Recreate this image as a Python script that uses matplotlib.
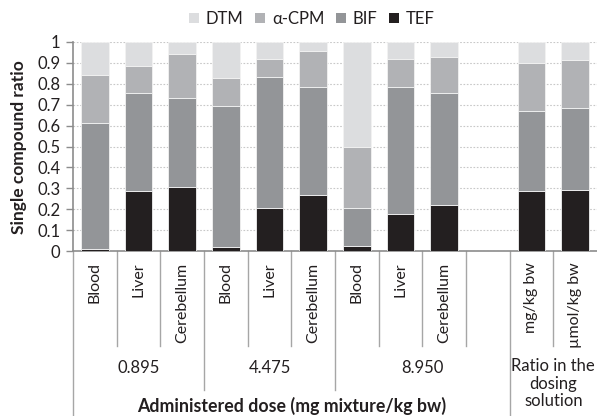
import matplotlib
matplotlib.use("Agg")
import matplotlib.pyplot as plt
import numpy as np
from matplotlib.patches import Patch
from matplotlib.lines import Line2D
import matplotlib.transforms as mtrans

plt.rcParams['font.family'] = ['Lato', 'DejaVu Sans']

categories = ["Blood", "Liver", "Cerebellum", "Blood", "Liver", "Cerebellum",
              "Blood", "Liver", "Cerebellum", "", "mg/kg bw", "µmol/kg bw"]
groups = ["0.895", "4.475", "8.950", "Ratio in the\ndosing\nsolution"]
group_spans = [(0, 3), (3, 6), (6, 10), (10, 12)]
supergroup = "Administered dose (mg mixture/kg bw)"

TEF = [0.010, 0.289, 0.308, 0.019, 0.204, 0.268, 0.022, 0.179, 0.219, 0.0, 0.286, 0.292]
BIF = [0.603, 0.468, 0.422, 0.676, 0.627, 0.518, 0.186, 0.604, 0.537, 0.0, 0.383, 0.390]
CPM = [0.227, 0.130, 0.212, 0.132, 0.089, 0.169, 0.292, 0.137, 0.171, 0.0, 0.229, 0.233]
DTM = [0.160, 0.113, 0.058, 0.173, 0.080, 0.045, 0.500, 0.080, 0.073, 0.0, 0.102, 0.085]

series = [("TEF", TEF, "#231f20"), ("BIF", BIF, "#939598"),
          ("α-CPM", CPM, "#b1b2b5"), ("DTM", DTM, "#dcdddf")]

W, H = 597, 416
fig = plt.figure(figsize=(W / 100, H / 100), dpi=100)
ax = fig.add_axes([73 / W, 1 - 251 / H, (597 - 73) / W, (251 - 42) / H])

x = np.arange(len(categories))
bottom = np.zeros(len(categories))
for name, vals, col in series:
    v = np.array(vals)
    ax.bar(x, v, width=0.63, bottom=bottom, color=col,
           edgecolor="#f2f2f2", linewidth=0.6, zorder=3)
    bottom += v

ax.set_xlim(-0.5, len(categories) - 0.5)
ax.set_ylim(0, 1)
ax.set_yticks(np.arange(0, 1.01, 0.1))
ax.set_yticklabels(["0"] + ["%.1f" % t for t in np.arange(0.1, 0.95, 0.1)] + ["1"])
ax.yaxis.grid(True, linestyle=(0, (1.5, 1.5)), color="#c8c8c8", linewidth=0.8, zorder=0)
ax.set_axisbelow(True)
for s in ["top", "right"]:
    ax.spines[s].set_visible(False)
axcol = "#8c8c8c"
ax.spines["left"].set_color(axcol)
ax.spines["bottom"].set_color(axcol)
ax.spines["left"].set_linewidth(1.2)
ax.spines["bottom"].set_linewidth(1.2)
ax.tick_params(axis="y", direction="out", length=5, color=axcol, width=1,
               labelsize=12, labelcolor="#231f20", pad=4)
ax.set_xticks([])

tr = mtrans.blended_transform_factory(ax.transData, ax.transAxes)
txtcol = "#231f20"
for i, c in enumerate(categories):
    if c:
        ax.text(i, -0.055, c, rotation=90, ha="center", va="top", fontsize=11.5,
                color=txtcol, transform=tr)

short_y = -0.455
long_y = -0.665
full_y = -0.85
bounds = np.arange(len(categories) + 1) - 0.5
for k, b in enumerate(bounds[:-1]):
    if k in (0, 10):
        y2 = full_y
    elif k in (3, 6):
        y2 = long_y
    else:
        y2 = short_y
    ax.add_line(Line2D([b, b], [0, y2], color="#a6a6a6", linewidth=1.0,
                       transform=tr, clip_on=False))

for g, (a, b) in zip(groups, group_spans):
    cx = (a + b - 1) / 2
    if "\n" in g:
        ax.text(cx, -0.635, g, ha="center", va="center", fontsize=12, color=txtcol,
                transform=tr, linespacing=1.12)
    else:
        ax.text(cx, -0.56, g, ha="center", va="center", fontsize=12, color=txtcol,
                transform=tr)

ax.text((0 + 9) / 2, -0.74, supergroup, ha="center", va="center", fontsize=12.8,
        fontweight="bold", color=txtcol, transform=tr)

fig.text(19 / W, 1 - 147 / H, "Single compound ratio", rotation=90, ha="center",
         va="center", fontsize=12.5, fontweight="bold", color=txtcol)

handles = [Patch(facecolor=c, edgecolor="none", label=n)
           for n, _, c in reversed(series)]
fig.legend(handles=handles, loc="center", bbox_to_anchor=(312 / W, 1 - 19 / H),
           ncol=4, frameon=False, fontsize=12, handlelength=0.6, handleheight=0.6,
           handletextpad=0.4, columnspacing=0.7, labelcolor=txtcol)

fig.savefig("out.png", dpi=100)
